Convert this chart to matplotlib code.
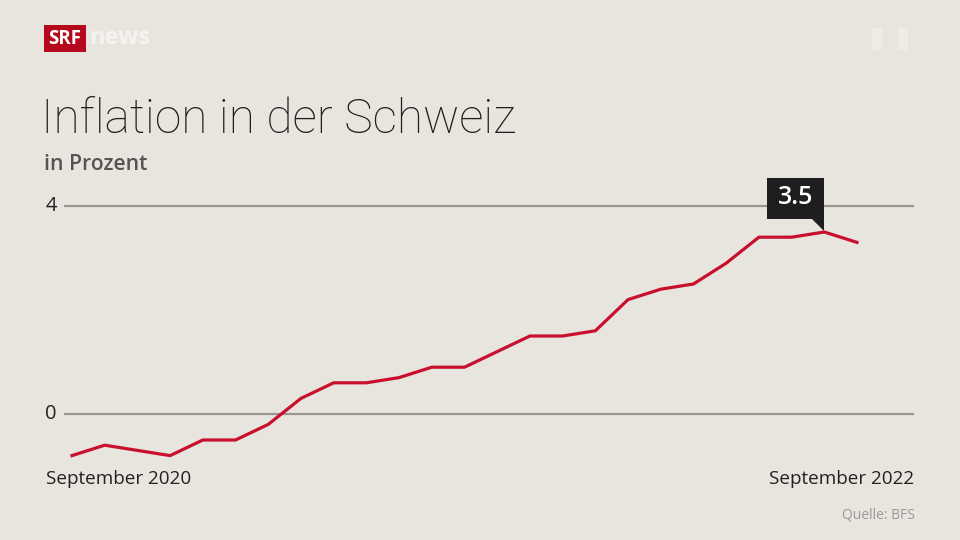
import matplotlib
matplotlib.use("Agg")
import matplotlib.pyplot as plt
from matplotlib.patches import Rectangle, Polygon

months = ["Sep 2020", "Okt 2020", "Nov 2020", "Dez 2020", "Jan 2021", "Feb 2021",
          "Mär 2021", "Apr 2021", "Mai 2021", "Jun 2021", "Jul 2021", "Aug 2021",
          "Sep 2021", "Okt 2021", "Nov 2021", "Dez 2021", "Jan 2022", "Feb 2022",
          "Mär 2022", "Apr 2022", "Mai 2022", "Jun 2022", "Jul 2022", "Aug 2022",
          "Sep 2022"]
inflation = [-0.8, -0.6, -0.7, -0.8, -0.5, -0.5, -0.2, 0.3, 0.6, 0.6, 0.7, 0.9,
             0.9, 1.2, 1.5, 1.5, 1.6, 2.2, 2.4, 2.5, 2.9, 3.4, 3.4, 3.5, 3.3]
y_ticks = [0, 4]
x_labels = ["September 2020", "September 2022"]
highlight_index = 23

BG = "#e8e5df"
RED = "#c8102e"
W, H = 960, 540

fig = plt.figure(figsize=(9.6, 5.4), dpi=100, facecolor=BG)

def fx(px):
    return px / W

def fy(py):
    return 1 - py / H

# axes placement in pixels
ax_l, ax_r, ax_t, ax_b = 64, 914, 180, 470
ax = fig.add_axes([fx(ax_l), fy(ax_b), (ax_r - ax_l) / W, (ax_b - ax_t) / H])
ax.set_facecolor(BG)
for s in ax.spines.values():
    s.set_visible(False)
ax.set_xticks([])
ax.set_yticks([])

# pixel mapping: 0 -> 414, 4 -> 206
ppu = (414 - 206) / 4
ax.set_ylim(-(ax_b - 414) / ppu, (414 - ax_t) / ppu)
step = (857 - 72) / (len(inflation) - 1)
ax.set_xlim(-(72 - ax_l) / step, (ax_r - 72) / step)

xs = list(range(len(inflation)))
for t in y_ticks:
    ax.axhline(t, color="#9a968f", lw=1.6, zorder=1)
    ax.text(-(72 - 51) / step, t, str(t), ha="center", va="center",
            fontsize=14.5, color="#222222", family="Open Sans", clip_on=False)

ax.plot(xs, inflation, color=RED, lw=2.3, solid_joinstyle="miter", zorder=3)

# annotation box
hx, hy = highlight_index, inflation[highlight_index]
trans = ax.transData
px, py = trans.transform((hx, hy))
inv = fig.transFigure.inverted()
box_w, box_h = 57, 41
box_right = px
box_bottom = py + 13
box_left = box_right - box_w
fig.patches.append(Rectangle(inv.transform((box_left, box_bottom)),
                             box_w / W, box_h / H, transform=fig.transFigure,
                             facecolor="#1e1e1e", edgecolor="none", zorder=5))
tri = [inv.transform((box_right - 13, box_bottom + 0.5)),
       inv.transform((box_right, box_bottom + 0.5)),
       inv.transform((box_right, py + 1))]
fig.patches.append(Polygon(tri, closed=True, transform=fig.transFigure,
                           facecolor="#1e1e1e", edgecolor="none", zorder=5))
cx, cy = inv.transform((box_left + box_w / 2, box_bottom + box_h / 2 + 1))
fig.text(cx, cy, f"{hy:.1f}", ha="center", va="center", fontsize=18,
         color="white", family="Open Sans", weight="semibold", zorder=6)

# x labels
fig.text(fx(46), fy(479), x_labels[0], ha="left", va="center", fontsize=13.6,
         color="#222222", family="Open Sans")
fig.text(fx(914), fy(479), x_labels[1], ha="right", va="center", fontsize=13.6,
         color="#222222", family="Open Sans")

# title & subtitle
fig.text(fx(41), fy(120), "Inflation in der Schweiz", ha="left", va="center",
         fontsize=34.5, color="#1e1e1e", family="Roboto", weight="light")
fig.text(fx(44), fy(165), "in Prozent", ha="left", va="center", fontsize=15.2,
         color="#555555", family="Open Sans", weight="semibold")

# source
fig.text(fx(915), fy(515), "Quelle: BFS", ha="right", va="center", fontsize=10,
         color="#999999", family="Open Sans")

# SRF news logo
fig.patches.append(Rectangle((fx(44), fy(52)), 42 / W, 27 / H,
                             transform=fig.transFigure, facecolor="#b5081c",
                             edgecolor="none"))
fig.text(fx(65), fy(38.5), "SRF", ha="center", va="center", fontsize=13.5,
         color="white", family="Open Sans", weight="bold")
fig.text(fx(89), fy(38), "news", ha="left", va="center", fontsize=17,
         color="#f7f6f3", family="Open Sans", weight="bold", alpha=0.85)

# faint top-right marks
fig.patches.append(Rectangle((fx(872), fy(50)), 10 / W, 22 / H,
                             transform=fig.transFigure, facecolor="#eeece7",
                             edgecolor="none"))
fig.patches.append(Rectangle((fx(898), fy(50)), 10 / W, 22 / H,
                             transform=fig.transFigure, facecolor="#eeece7",
                             edgecolor="none"))

fig.savefig("out.png", dpi=100, facecolor=BG)
